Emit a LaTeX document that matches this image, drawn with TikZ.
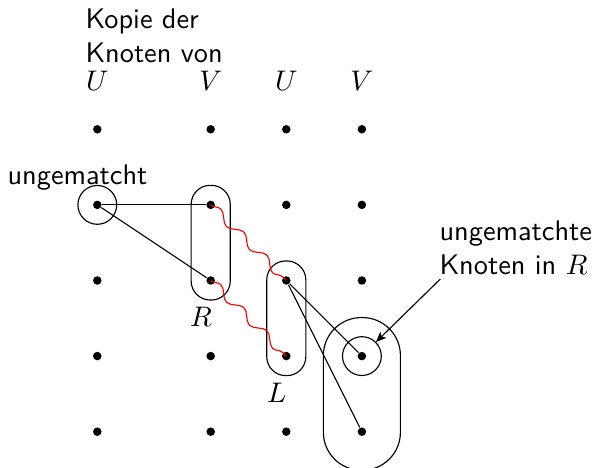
\documentclass[tikz,border=0pt]{standalone}
\usetikzlibrary{arrows.meta,positioning,fit,decorations.pathmorphing}
\tikzset{
  vertex/.style={circle,fill=black,inner sep=0pt,minimum size=3pt},
  single/.style={circle,draw,inner sep=0pt,minimum size=13.7pt},
  setbox/.style={draw,rounded corners=6.7pt,inner sep=5.2pt},
  bigbox/.style={draw,rounded corners=13.4pt,inner sep=11.9pt},
  graphedge/.style={draw=black},
  matchedge/.style={draw=red,decorate,decoration={snake,amplitude=1.5pt,segment length=11.5pt}},
  lbl/.style={inner sep=0pt,font=\sffamily}
}
\begin{document}
\begin{tikzpicture}[x=0.938cm,y=0.938cm]
\useasboundingbox (-1.287,-4.480) rectangle (6.610,1.710);
% grid of vertices
\foreach \c/\x in {0/0,1/1.5,2/2.5,3/3.5}
  \foreach \r in {0,...,4}
    \node[vertex] (v\c\r) at (\x,-\r) {};
% column heads
\foreach \x/\s [count=\i] in {0/U,1.5/V,2.5/U,3.5/V}
  \node[lbl,anchor=base] (h\i) at (\x,0.507) {$\s$};
\node[lbl,align=left,anchor=south west] (copy) at (-0.163,0.877) {Kopie der\\Knoten von};
% groups
\node[single] (c0) at (v01) {};
\node[lbl,anchor=base] (um) at (-0.262,-0.724) {ungematcht};
\node[setbox,fit=(v11)(v12)] (Rbox) {};
\node[lbl,below=2.2pt of Rbox.south,xshift=-3.4pt] (Rl) {$R$};
\node[setbox,fit=(v22)(v23)] (Lbox) {};
\node[lbl,below=2.4pt of Lbox.south,xshift=-3.4pt] (Ll) {$L$};
\node[bigbox,fit=(v33)(v34)] (Fbox) {};
\node[single] (c3) at (v33) {};
\node[lbl,align=left,anchor=south west] (note) at (4.52,-1.927) {ungematchte\\Knoten in $R$};
% edges
\draw[graphedge] (v01) -- (v11);
\draw[graphedge] (v01) -- (v12);
\draw[graphedge] (v22) -- (v33);
\draw[graphedge] (v22) -- (v34);
\draw[matchedge] (v11.center) -- (v22.center);
\draw[matchedge] (v12.center) -- (v23.center);
\draw[-{Stealth[length=3.6pt,width=3pt,inset=0.8pt]}] ([shift={(0.5pt,-1.4pt)}]note.south west) -- (c3.north east);
\end{tikzpicture}
\end{document}
